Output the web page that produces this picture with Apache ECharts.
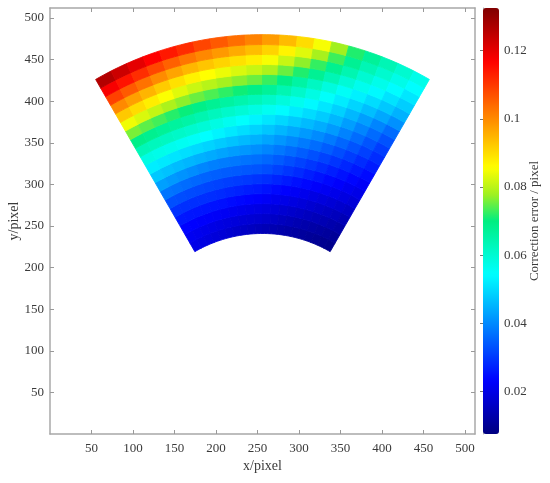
<!DOCTYPE html>
<html>
<head>
<meta charset="utf-8">
<script src="https://cdn.jsdelivr.net/npm/echarts@6/dist/echarts.min.js"></script>
<style>
html,body{margin:0;padding:0;background:#fff;}
#chart{width:550px;height:483px;}
</style>
</head>
<body>
<div id="chart"></div>
<script>
// ---- data ----
// fan (annular sector) geometry in pixel coordinates
const FAN_CENTER = [256, 78];
const R_INNER = 163;
const R_OUTER = 402;
const HALF_ANGLE = 30; // degrees from vertical

// correction error per cell: rows = rings from inner (bottom) to outer (top),
// columns = sectors from left (-30 deg) to right (+30 deg)
const errorRows = [
  [0.0202,0.0197,0.0191,0.0185,0.0180,0.0174,0.0167,0.0161,0.0154,0.0147,0.0141,0.0135,0.0129,0.0123,0.0117,0.0111,0.0106,0.0101,0.0095,0.0090],
  [0.0215,0.0210,0.0205,0.0200,0.0195,0.0190,0.0186,0.0182,0.0178,0.0174,0.0168,0.0160,0.0152,0.0144,0.0136,0.0129,0.0123,0.0117,0.0110,0.0104],
  [0.0234,0.0231,0.0228,0.0225,0.0222,0.0218,0.0213,0.0208,0.0203,0.0198,0.0192,0.0184,0.0176,0.0168,0.0160,0.0152,0.0145,0.0138,0.0130,0.0123],
  [0.0259,0.0257,0.0256,0.0254,0.0252,0.0249,0.0244,0.0239,0.0234,0.0229,0.0221,0.0212,0.0203,0.0194,0.0185,0.0176,0.0167,0.0158,0.0149,0.0140],
  [0.0290,0.0289,0.0288,0.0287,0.0286,0.0282,0.0277,0.0272,0.0266,0.0261,0.0252,0.0241,0.0231,0.0220,0.0209,0.0198,0.0189,0.0180,0.0170,0.0161],
  [0.0328,0.0325,0.0322,0.0319,0.0316,0.0312,0.0307,0.0303,0.0299,0.0294,0.0286,0.0274,0.0262,0.0250,0.0238,0.0227,0.0216,0.0205,0.0194,0.0183],
  [0.0374,0.0369,0.0363,0.0357,0.0352,0.0347,0.0344,0.0341,0.0337,0.0334,0.0325,0.0310,0.0296,0.0282,0.0267,0.0253,0.0240,0.0227,0.0214,0.0201],
  [0.0426,0.0418,0.0411,0.0403,0.0395,0.0388,0.0383,0.0378,0.0372,0.0367,0.0357,0.0342,0.0327,0.0312,0.0297,0.0282,0.0267,0.0252,0.0236,0.0221],
  [0.0475,0.0468,0.0461,0.0454,0.0447,0.0440,0.0431,0.0423,0.0415,0.0406,0.0394,0.0378,0.0362,0.0345,0.0329,0.0312,0.0295,0.0277,0.0259,0.0242],
  [0.0523,0.0517,0.0511,0.0504,0.0498,0.0490,0.0479,0.0469,0.0458,0.0447,0.0433,0.0416,0.0399,0.0381,0.0364,0.0345,0.0325,0.0305,0.0284,0.0264],
  [0.0577,0.0571,0.0566,0.0560,0.0554,0.0544,0.0530,0.0517,0.0503,0.0489,0.0473,0.0455,0.0437,0.0419,0.0401,0.0380,0.0356,0.0333,0.0309,0.0285],
  [0.0632,0.0625,0.0619,0.0612,0.0605,0.0594,0.0578,0.0562,0.0546,0.0530,0.0513,0.0496,0.0478,0.0460,0.0443,0.0420,0.0391,0.0363,0.0334,0.0305],
  [0.0690,0.0681,0.0672,0.0663,0.0654,0.0642,0.0626,0.0610,0.0594,0.0578,0.0560,0.0540,0.0520,0.0500,0.0480,0.0455,0.0424,0.0393,0.0362,0.0331],
  [0.0759,0.0745,0.0732,0.0718,0.0704,0.0690,0.0675,0.0660,0.0645,0.0630,0.0611,0.0587,0.0563,0.0538,0.0514,0.0487,0.0456,0.0425,0.0394,0.0363],
  [0.0844,0.0825,0.0807,0.0788,0.0769,0.0752,0.0737,0.0722,0.0707,0.0692,0.0669,0.0639,0.0609,0.0579,0.0549,0.0520,0.0492,0.0464,0.0436,0.0408],
  [0.0923,0.0900,0.0877,0.0854,0.0831,0.0812,0.0797,0.0782,0.0767,0.0752,0.0727,0.0692,0.0656,0.0620,0.0585,0.0554,0.0527,0.0501,0.0475,0.0448],
  [0.1002,0.0975,0.0948,0.0921,0.0894,0.0872,0.0856,0.0841,0.0825,0.0809,0.0790,0.0752,0.0715,0.0675,0.0635,0.0595,0.0565,0.0537,0.0509,0.0483],
  [0.1090,0.1059,0.1029,0.0999,0.0968,0.0945,0.0928,0.0910,0.0893,0.0876,0.0850,0.0810,0.0770,0.0725,0.0680,0.0640,0.0600,0.0570,0.0541,0.0514],
  [0.1178,0.1146,0.1114,0.1082,0.1050,0.1025,0.1003,0.0982,0.0960,0.0938,0.0910,0.0870,0.0830,0.0785,0.0730,0.0675,0.0635,0.0603,0.0572,0.0543],
  [0.1263,0.1232,0.1201,0.1170,0.1139,0.1115,0.1085,0.1060,0.1035,0.1010,0.0980,0.0940,0.0900,0.0850,0.0780,0.0715,0.0670,0.0635,0.0602,0.0571]
];

const AXIS_MIN = 0;
const AXIS_MAX = 512;
const AXIS_TICKS = [50,100,150,200,250,300,350,400,450,500];
const ERR_MIN = 0.0075;
const ERR_MAX = 0.1325;
const COLORBAR_TICKS = [0.02,0.04,0.06,0.08,0.1,0.12];

const JET = ['#000080','#0000c0','#0000ff','#0040ff','#0080ff','#00c0ff','#00ffff',
             '#00f8c0','#00ee80','#a0f020','#ffff00','#ffc000','#ff8000','#ff4000',
             '#ff0000','#c00000','#800000'];

// ---- build ----
const NR = errorRows.length;
const NT = errorRows[0].length;
const cells = [];
errorRows.forEach((row, i) => row.forEach((v, j) => cells.push([i, j, v])));

const FONT = 'Liberation Serif';
const TXT = '#3a3a3a';
const LINE = '#a8a8a8';

function pt(r, deg) {
  const a = deg * Math.PI / 180;
  return [FAN_CENTER[0] + r * Math.sin(a), FAN_CENTER[1] + r * Math.cos(a)];
}

function renderCell(params, api) {
  const i = api.value(0), j = api.value(1);
  const r0 = R_INNER + (R_OUTER - R_INNER) * i / NR;
  const r1 = R_INNER + (R_OUTER - R_INNER) * (i + 1) / NR;
  const t0 = -HALF_ANGLE + 2 * HALF_ANGLE * j / NT;
  const t1 = -HALF_ANGLE + 2 * HALF_ANGLE * (j + 1) / NT;
  const pts = [];
  const K = 4;
  for (let k = 0; k <= K; k++) pts.push(api.coord(pt(r1, t0 + (t1 - t0) * k / K)));
  for (let k = K; k >= 0; k--) pts.push(api.coord(pt(r0, t0 + (t1 - t0) * k / K)));
  const c = api.visual('color');
  return { type: 'polygon', shape: { points: pts }, style: { fill: c, stroke: c, lineWidth: 0.9 } };
}

const boxAxis = (pos, extra) => Object.assign({
  type: 'value', gridIndex: 0, position: pos, min: AXIS_MIN, max: AXIS_MAX,
  axisLine: { show: true, onZero: false, lineStyle: { color: LINE, width: 1.5 } },
  axisTick: { show: true, inside: true, length: 4, customValues: AXIS_TICKS, lineStyle: { color: '#999' } },
  axisLabel: { show: false },
  splitLine: { show: false }
}, extra);

const labelStyle = { show: true, customValues: AXIS_TICKS, fontFamily: FONT, fontSize: 13, color: TXT };

const chart = echarts.init(document.getElementById('chart'));
chart.setOption({
  backgroundColor: '#fff',
  animation: false,
  grid: [
    { left: 50, top: 8, width: 425, height: 426, containLabel: false, outerBoundsMode: 'none' },
    { left: 483, top: 8, width: 16, height: 426, containLabel: false, outerBoundsMode: 'none' }
  ],
  xAxis: [
    boxAxis('bottom', {
      axisLabel: Object.assign({ margin: 8 }, labelStyle),
      name: 'x/pixel', nameLocation: 'middle', nameGap: 25, nameMoveOverlap: false,
      nameTextStyle: { fontFamily: FONT, fontSize: 14, color: TXT }
    }),
    boxAxis('top', {}),
    { type: 'value', gridIndex: 1, show: false, min: 0, max: 1 }
  ],
  yAxis: [
    boxAxis('left', {
      axisLabel: Object.assign({ margin: 6 }, labelStyle),
      name: 'y/pixel', nameLocation: 'middle', nameGap: 29, nameRotate: 90, nameMoveOverlap: false,
      nameTextStyle: { fontFamily: FONT, fontSize: 14, color: TXT }
    }),
    boxAxis('right', {}),
    {
      type: 'value', gridIndex: 1, position: 'right', min: ERR_MIN, max: ERR_MAX,
      axisLine: { show: true, lineStyle: { color: LINE, width: 1 } },
      axisTick: { show: true, inside: true, length: 3, customValues: COLORBAR_TICKS, lineStyle: { color: '#777' } },
      axisLabel: { show: true, customValues: COLORBAR_TICKS, margin: 5, fontFamily: FONT, fontSize: 13, color: TXT },
      splitLine: { show: false },
      name: 'Correction error / pixel', nameLocation: 'middle', nameRotate: 90, nameGap: 29, nameMoveOverlap: false,
      nameTextStyle: { fontFamily: FONT, fontSize: 13, color: TXT }
    }
  ],
  visualMap: {
    type: 'continuous', min: ERR_MIN, max: ERR_MAX, dimension: 2, seriesIndex: 0,
    calculable: false, hoverLink: false, show: true, orient: 'vertical',
    left: 483, top: 8, itemWidth: 16, itemHeight: 426, padding: 0,
    inRange: { color: JET }
  },
  series: [{
    type: 'custom', coordinateSystem: 'cartesian2d', xAxisIndex: 0, yAxisIndex: 0,
    renderItem: renderCell, data: cells, clip: true, silent: true
  }]
});
</script>
</body>
</html>
